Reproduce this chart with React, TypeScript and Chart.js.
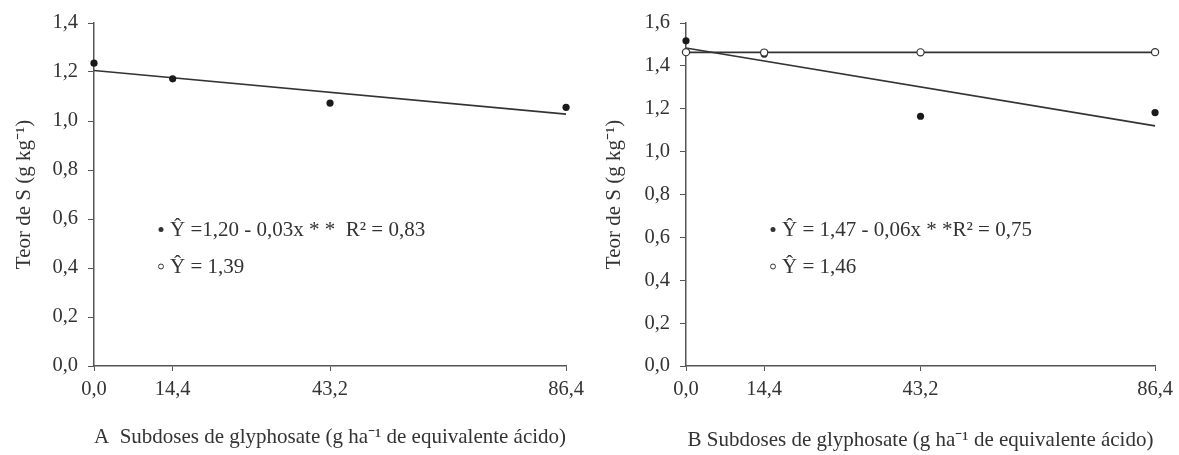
import React, { useEffect, useRef } from "react";
import { Chart, registerables } from "chart.js";

Chart.register(...registerables);

const FONT = "'Liberation Serif', 'Times New Roman', serif";

// Shared x categories (glyphosate sub-doses)
const xDoses = [0, 14.4, 43.2, 86.4];

// Panel A
const aFilled = [1.236, 1.172, 1.073, 1.056];
const aFitX = [0, 86.4];
const aFitY = [1.206, 1.028];
const aYTicksMax = 1.4;

// Panel B
const bFilled = [1.517, 1.455, 1.165, 1.182];
const bOpen = [1.464, 1.462, 1.463, 1.464];
const bFitX = [0, 86.4];
const bFitY = [1.483, 1.12];
const bMeanX = [0, 86.4];
const bMeanY = [1.463, 1.463];
const bYTicksMax = 1.6;

const aEquations = ["Ŷ =1,20 - 0,03x * *  R² = 0,83", "Ŷ = 1,39"];
const bEquations = ["Ŷ = 1,47 - 0,06x * *R² = 0,75", "Ŷ = 1,46"];

const yTitle = "Teor de S (g kg⁻¹)";
const aXTitle = "A  Subdoses de glyphosate (g ha⁻¹ de equivalente ácido)";
const bXTitle = "B Subdoses de glyphosate (g ha⁻¹ de equivalente ácido)";

const INK = "#333";
const AXIS = "#555";

const fmt = (v: number) => Number(v).toFixed(1).replace(".", ",");

const eqPlugin = {
  id: "eqText",
  afterDatasetsDraw(chart: any, _args: any, opts: any) {
    if (!opts || !opts.lines) return;
    const { ctx, chartArea } = chart;
    ctx.save();
    ctx.font = `${opts.size}px ${FONT}`;
    ctx.fillStyle = INK;
    ctx.strokeStyle = INK;
    ctx.textBaseline = "alphabetic";
    ctx.textAlign = "left";
    opts.lines.forEach((text: string, i: number) => {
      const base = chartArea.top + opts.dy + i * opts.gap;
      const mx = chartArea.left + opts.dx;
      const my = base - 6.5;
      ctx.beginPath();
      ctx.arc(mx, my, 2.5, 0, Math.PI * 2);
      if (i === 0) {
        ctx.fill();
      } else {
        ctx.lineWidth = 1;
        ctx.stroke();
      }
      ctx.fillText(text, mx + opts.textGap, base);
    });
    ctx.restore();
  },
};

function makeConfig(p: {
  datasets: any[];
  yMax: number;
  xTitle: string;
  xTitlePad: number;
  eq: any;
  padRight: number;
  yWidth: number;
}) {
  return {
    type: "scatter" as const,
    data: { datasets: p.datasets },
    plugins: [eqPlugin],
    options: {
      responsive: false,
      animation: false,
      events: [],
      layout: { padding: { left: 0, top: 23, right: p.padRight, bottom: 0 } },
      plugins: {
        legend: { display: false },
        tooltip: { enabled: false },
        eqText: p.eq,
      },
      scales: {
        x: {
          type: "linear",
          min: 0,
          max: 86.4,
          afterBuildTicks: (scale: any) => {
            scale.ticks = xDoses.map((v) => ({ value: v }));
          },
          afterFit: (scale: any) => {
            scale.height = 89;
          },
          ticks: {
            autoSkip: false,
            maxRotation: 0,
            padding: 6,
            color: INK,
            font: { family: FONT, size: 20.5 },
            callback: (v: any) => fmt(v),
          },
          grid: {
            display: true,
            drawOnChartArea: false,
            drawTicks: true,
            tickLength: 5,
            color: AXIS,
            lineWidth: 1,
          },
          border: { display: true, color: AXIS, width: 1.5 },
          title: {
            display: true,
            text: p.xTitle,
            color: INK,
            font: { family: FONT, size: 21, lineHeight: 1.2 },
            padding: { top: 0, bottom: p.xTitlePad },
          },
        },
        y: {
          type: "linear",
          min: 0,
          max: p.yMax,
          afterFit: (scale: any) => {
            scale.width = p.yWidth;
          },
          ticks: {
            stepSize: 0.2,
            autoSkip: false,
            padding: 10,
            color: INK,
            font: { family: FONT, size: 20.5 },
            callback: (v: any) => fmt(v),
          },
          grid: {
            display: true,
            drawOnChartArea: false,
            drawTicks: true,
            tickLength: 6,
            color: AXIS,
            lineWidth: 1,
          },
          border: { display: true, color: AXIS, width: 1.5 },
          title: {
            display: true,
            text: yTitle,
            color: INK,
            font: { family: FONT, size: 21, lineHeight: 1.2 },
            padding: { top: 12, bottom: 0 },
          },
        },
      },
    },
  };
}

const toPts = (xs: number[], ys: number[]) => xs.map((x, i) => ({ x, y: ys[i] }));

const filledStyle = {
  showLine: false,
  pointRadius: 3.6,
  pointBackgroundColor: "#1a1a1a",
  pointBorderColor: "#1a1a1a",
  pointBorderWidth: 0,
  clip: false,
};
const openStyle = {
  showLine: false,
  pointRadius: 3.6,
  pointBackgroundColor: "#ffffff",
  pointBorderColor: "#333",
  pointBorderWidth: 1.2,
  clip: false,
};
const lineStyle = {
  showLine: true,
  pointRadius: 0,
  borderColor: "#333",
  borderWidth: 1.6,
  clip: false,
};

function Panel(props: { config: any; left: number; width: number }) {
  const ref = useRef<HTMLCanvasElement | null>(null);
  useEffect(() => {
    if (!ref.current) return;
    const chart = new Chart(ref.current, props.config);
    return () => chart.destroy();
  }, []);
  return (
    <canvas
      ref={ref}
      width={props.width}
      height={455}
      style={{ position: "absolute", left: props.left, top: 0, width: props.width, height: 455, display: "block" }}
    />
  );
}

export default function App() {
  const configA = makeConfig({
    datasets: [
      { ...filledStyle, data: toPts(xDoses, aFilled) },
      { ...lineStyle, data: toPts(aFitX, aFitY) },
    ],
    yMax: aYTicksMax,
    xTitle: aXTitle,
    xTitlePad: 5,
    eq: { lines: aEquations, size: 21, dx: 67, dy: 213, gap: 37, textGap: 9 },
    padRight: 21,
    yWidth: 94,
  });
  const configB = makeConfig({
    datasets: [
      { ...openStyle, data: toPts(xDoses, bOpen) },
      { ...filledStyle, data: toPts(xDoses, bFilled) },
      { ...lineStyle, data: toPts(bFitX, bFitY) },
      { ...lineStyle, data: toPts(bMeanX, bMeanY) },
    ],
    yMax: bYTicksMax,
    xTitle: bXTitle,
    xTitlePad: 2,
    eq: { lines: bEquations, size: 21, dx: 87, dy: 213, gap: 37, textGap: 9 },
    padRight: 19,
    yWidth: 96,
  });
  return (
    <div style={{ position: "fixed", left: 0, top: 0, width: 1179, height: 455, background: "#fff", overflow: "hidden" }}>
      <Panel config={configA} left={0} width={590} />
      <Panel config={configB} left={590} width={589} />
    </div>
  );
}
